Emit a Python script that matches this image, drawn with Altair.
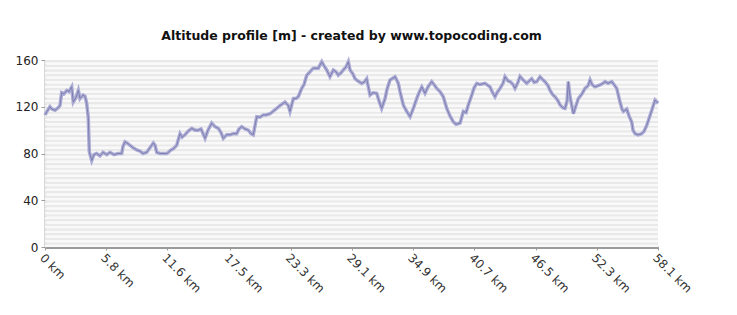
import altair as alt
import pandas as pd

km = [0, 0.19, 0.47, 0.66, 0.95, 1.23, 1.42, 1.58, 1.80, 2.06, 2.27, 2.53, 2.68, 2.94, 3.16, 3.32, 3.60, 3.79, 3.95, 4.10,
      4.20, 4.43, 4.64, 4.90, 5.21, 5.50, 5.85, 6.16, 6.54, 6.92, 7.27, 7.39, 7.58, 7.77, 8.06, 8.34, 8.69, 9.00, 9.29, 9.64,
      9.95, 10.27, 10.43, 10.59, 10.90, 11.54, 11.69, 11.94, 12.16, 12.48, 12.80, 12.99, 13.27, 13.55, 13.91, 14.22, 14.53,
      14.79, 14.98, 15.17, 15.45, 15.80, 16.11, 16.43, 16.68, 16.90, 17.22, 17.54, 17.82, 18.17, 18.39, 18.64, 18.96, 19.27,
      19.53, 19.74, 20.07, 20.38, 20.69, 20.95, 21.33, 21.61, 21.96, 22.27, 22.75, 23.06, 23.22, 23.54, 23.79, 24.01, 24.33,
      24.55, 24.81, 25.12, 25.43, 25.91, 26.23, 26.45, 26.70, 27.01, 27.33, 27.58, 27.80, 28.06, 28.27, 28.53, 28.75, 28.91,
      29.19, 29.38, 29.67, 30.02, 30.24, 30.49, 30.62, 30.81, 31.09, 31.44, 31.66, 31.91, 32.23, 32.42, 32.70, 32.89, 33.18,
      33.49, 33.65, 33.96, 34.22, 34.60, 34.91, 35.23, 35.45, 35.71, 36.02, 36.30, 36.65, 36.87, 37.13, 37.44, 37.75, 38.08,
      38.39, 38.70, 38.96, 39.34, 39.65, 39.91, 40.12, 40.45, 40.66, 40.92, 41.23, 41.71, 42.18, 42.37, 42.65, 42.84, 43.13,
      43.41, 43.60, 43.89, 44.08, 44.36, 44.55, 44.83, 45.02, 45.31, 45.66, 45.88, 46.13, 46.35, 46.61, 46.92, 47.20, 47.39,
      47.68, 47.87, 48.15, 48.34, 48.63, 48.82, 49.10, 49.29, 49.48, 49.60, 49.76, 49.95, 50.08, 50.33, 50.55, 50.90, 51.18,
      51.47, 51.66, 51.85, 52.13, 52.42, 52.61, 52.89, 53.08, 53.36, 53.72, 53.93, 54.19, 54.50, 54.69, 54.82, 55.14, 55.36,
      55.61, 55.73, 55.92, 56.21, 56.56, 56.78, 57.03, 57.25, 57.51, 57.82, 58.10]

altitude = [113, 116, 120, 118, 117, 119, 121, 132, 131, 134, 133, 137, 124, 128, 134, 127, 130, 129, 123, 111,
            81.5, 74, 79, 80, 78, 81, 79, 81, 79, 80, 80, 86, 90, 89, 87, 85, 83, 82, 80, 81,
            85, 89, 87, 81, 80, 80, 81, 83, 84, 87, 97, 94, 96, 99, 101.5, 100, 100,
            101, 97, 93, 100, 106, 103, 101.5, 98, 93, 96, 96, 97, 97, 101, 103, 101, 100,
            97, 96, 111.5, 111, 113, 113, 114, 116, 118.6, 121, 124, 121, 116, 127, 127, 128.6, 135.7,
            139, 147, 150, 153, 153, 158.5, 155, 151.5, 145.7, 151.5, 150, 147, 149, 151.5, 154, 158.5, 151.5,
            148, 144, 142, 140, 141, 144, 138, 130, 132, 131.5, 125, 118.6, 127, 135, 143, 144, 145.7,
            140, 133, 121.5, 117, 111.5, 118.6, 127, 132, 137, 131.5, 137, 141.5, 139, 135.7, 133, 128.6, 118.6,
            112, 107, 105, 106, 116, 115, 121.5, 130, 136, 140, 139, 140, 137, 133, 128.6, 132, 135.7,
            140, 145.7, 142, 141.5, 139, 135.7, 141, 146, 143, 140, 142, 144, 141, 141.5, 145.7, 143, 141.5,
            138, 134, 130, 128.6, 125, 121.5, 119, 118.6, 125, 141.5, 128.6, 120, 114, 121, 127, 131, 135.7,
            138, 143, 139, 137, 138, 138.6, 140, 141.5, 140, 141.5, 139, 135.7, 124, 118, 116, 118, 112,
            107, 100, 97, 96, 97, 99, 104, 110, 117, 125.7, 123]

tick_km = [0, 5.8, 11.6, 17.5, 23.3, 29.1, 34.9, 40.7, 46.5, 52.3, 58.1]
tick_alt = [0, 40, 80, 120, 160]

df = pd.DataFrame({"km": km, "alt": altitude})

# background stripes (styling)
bands = pd.DataFrame({
    "y0": [i * 2 for i in range(80)],
    "y1": [i * 2 + 2 for i in range(80)],
    "shade": ["a" if i % 2 == 0 else "b" for i in range(80)],
})

xscale = alt.Scale(domain=[0, 58.1], nice=False, zero=True)
yscale = alt.Scale(domain=[0, 160], nice=False)

x_axis = alt.Axis(
    values=tick_km, title=None, grid=False,
    labelExpr="datum.value == 0 ? '0 km' : format(datum.value, '.1f') + ' km'",
    labelAngle=45, labelAlign="left", labelBaseline="top",
    labelFont="DejaVu Sans", labelFontSize=12, labelColor="#333333",
    domainColor="#9a9a9a", domainWidth=3, tickColor="#9a9a9a", tickSize=3,
    labelPadding=2,
)
y_axis = alt.Axis(
    values=tick_alt, title=None, grid=False,
    labelFont="DejaVu Sans", labelFontSize=12, labelColor="#222222",
    domainColor="#b0b0b0", domainWidth=2, tickColor="#999999", tickSize=4,
    labelPadding=3,
)

bg = alt.Chart(bands).mark_rect().encode(
    x=alt.value(0), x2=alt.value(613),
    y=alt.Y("y0:Q", scale=yscale, axis=y_axis),
    y2="y1:Q",
    color=alt.Color("shade:N", scale=alt.Scale(domain=["a", "b"], range=["#f9f9f9", "#e9e9e9"]), legend=None),
)

thick = alt.Chart(df).mark_line(color="#acacd6", strokeWidth=3.5).encode(
    x=alt.X("km:Q", scale=xscale, axis=x_axis),
    y=alt.Y("alt:Q", scale=yscale),
)
thin = alt.Chart(df).mark_line(color="#7474a4", strokeWidth=0.8).encode(
    x=alt.X("km:Q", scale=xscale),
    y=alt.Y("alt:Q", scale=yscale),
)

chart = alt.layer(bg, thick, thin).properties(
    width=613, height=187,
    title=alt.TitleParams(
        "Altitude profile [m] - created by www.topocoding.com",
        font="DejaVu Sans", fontSize=12.5, fontWeight="bold", color="#111111",
        anchor="middle", offset=12,
    ),
    autosize=alt.AutoSizeParams(type="none"),
    padding={"left": 45, "top": 60, "right": 79, "bottom": 68},
).configure_view(stroke=None)

chart.save("out.html", embed_options={"renderer": "svg", "actions": False})
